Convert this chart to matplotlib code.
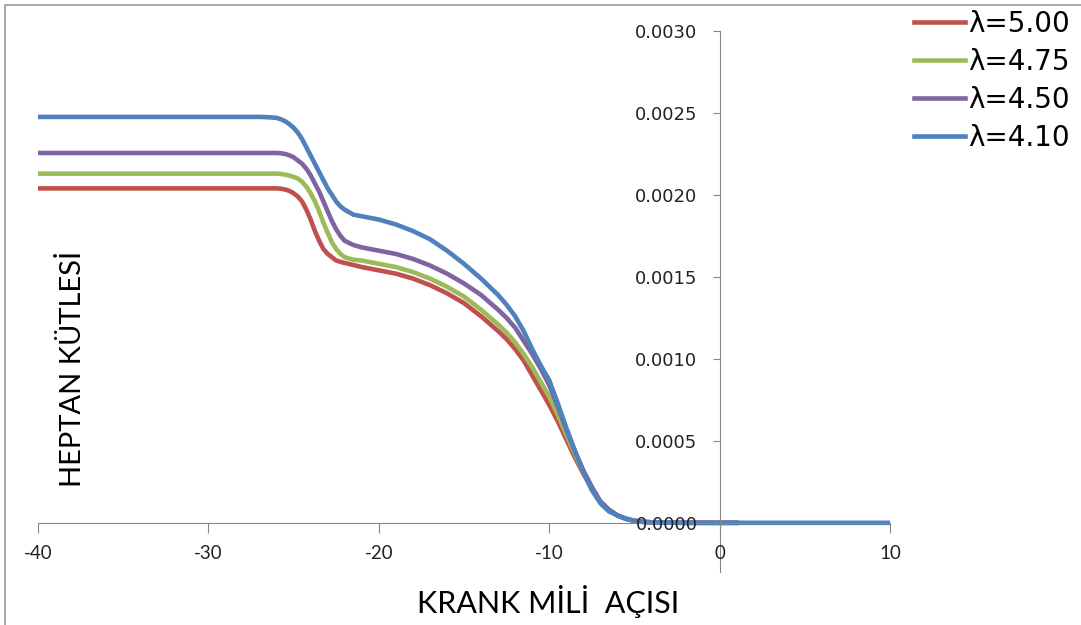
import matplotlib
matplotlib.use("Agg")
import matplotlib.pyplot as plt
from matplotlib.patches import Rectangle

plt.rcParams["axes.unicode_minus"] = False

# krank mili acisi (derece)
angle = [-40, -30, -27, -26.5, -26, -25.75, -25.5, -25.25, -25, -24.75, -24.5, -24.25,
         -24, -23.75, -23.5, -23.25, -23, -22.75, -22.5, -22.25, -22, -21.5, -21, -20,
         -19, -18, -17, -16, -15, -14, -13, -12.5, -12, -11.5, -11, -10.5, -10, -9.5,
         -9, -8.5, -8, -7.5, -7, -6.5, -6, -5.5, -5, -4.5, -4, -3, -2, 0, 1]

# heptan kutlesi, her lambda icin
m_500 = [0.00204, 0.00204, 0.00204, 0.00204, 0.00204, 0.002038, 0.002033, 0.002025,
         0.00201, 0.00199, 0.00196, 0.00191, 0.00185, 0.00178, 0.00172, 0.00167,
         0.00164, 0.00162, 0.00160, 0.001592, 0.001585, 0.001573, 0.00156, 0.00154,
         0.00152, 0.00149, 0.00145, 0.00140, 0.00134, 0.00126, 0.00117, 0.00112,
         0.00106, 0.00099, 0.00090, 0.00081, 0.00072, 0.00062, 0.00051, 0.00040,
         0.00030, 0.00021, 0.00013, 0.00008, 0.000045, 0.000025, 0.000012, 0.000006,
         0.000003, 0.000001, 0.0, 0.0, 0.0]
m_475 = [0.00213, 0.00213, 0.00213, 0.00213, 0.00213, 0.002128, 0.002124, 0.002118,
         0.00211, 0.00210, 0.00208, 0.00205, 0.00201, 0.00196, 0.00190, 0.00183,
         0.00177, 0.00171, 0.00167, 0.00164, 0.00162, 0.001605, 0.00160, 0.00158,
         0.00156, 0.00153, 0.00149, 0.00144, 0.00138, 0.00130, 0.00121, 0.00116,
         0.00110, 0.00103, 0.00095, 0.00086, 0.00077, 0.00066, 0.00054, 0.00042,
         0.00031, 0.00021, 0.00013, 0.00008, 0.000045, 0.000025, 0.000012, 0.000006,
         0.000003, 0.000001, 0.0, 0.0, 0.0]
m_450 = [0.002256, 0.002256, 0.002256, 0.002256, 0.002256, 0.002254, 0.00225, 0.002242,
         0.00223, 0.00221, 0.00219, 0.00216, 0.00212, 0.00207, 0.00202, 0.00196,
         0.00190, 0.00184, 0.00179, 0.00175, 0.00172, 0.001695, 0.00168, 0.00166,
         0.00164, 0.00161, 0.00157, 0.00152, 0.00146, 0.00139, 0.00130, 0.00125,
         0.00119, 0.00111, 0.00103, 0.00094, 0.00084, 0.00071, 0.00057, 0.00044,
         0.00032, 0.00022, 0.00013, 0.00008, 0.000045, 0.000025, 0.000012, 0.000006,
         0.000003, 0.000001, 0.0, 0.0, 0.0]
angle_410 = angle + [10]
m_410 = [0.002476, 0.002476, 0.002476, 0.002474, 0.00247, 0.002462, 0.00245, 0.002432,
         0.00241, 0.00238, 0.00234, 0.00229, 0.00224, 0.00219, 0.00214, 0.00209,
         0.00204, 0.00200, 0.00196, 0.00193, 0.00191, 0.00188, 0.00187, 0.00185,
         0.00182, 0.00178, 0.00173, 0.00166, 0.00158, 0.00149, 0.00139, 0.00133,
         0.00126, 0.00117, 0.00106, 0.00096, 0.00087, 0.00073, 0.00058, 0.00044,
         0.00031, 0.00020, 0.00012, 0.00007, 0.000045, 0.000025, 0.000012, 0.000006,
         0.000003, 0.000001, 0.0, 0.0, 0.0, 0.0]

labels = ["λ=5.00", "λ=4.75", "λ=4.50", "λ=4.10"]
colors = ["#C0504D", "#9BBB59", "#8064A2", "#4F81BD"]

W, H = 1081, 625
fig = plt.figure(figsize=(W / 100, H / 100), dpi=100)
ax = fig.add_axes([38 / W, 1 - 572 / H, 852 / W, (572 - 31) / H])
ax.set_axisbelow(False)

series = [(angle, m_500), (angle, m_475), (angle, m_450), (angle_410, m_410)]
for (xs, ys), lab, c in zip(series, labels, colors):
    ax.plot(xs, ys, color=c, lw=3.3, label=lab, solid_joinstyle="round")

ax.set_xlim(-40, 10)
ax.set_ylim(-0.0003, 0.003)

gray = "#868686"
for s in ["top", "right"]:
    ax.spines[s].set_visible(False)
ax.spines["left"].set_position(("data", 0))
ax.spines["bottom"].set_position(("data", 0))
ax.spines["left"].set_color(gray)
ax.spines["bottom"].set_color(gray)

ax.set_xticks([-40, -30, -20, -10, 0, 10])
ax.set_yticks([0, 0.0005, 0.0010, 0.0015, 0.0020, 0.0025, 0.0030])
ax.set_yticklabels([f"{v:.4f}" for v in ax.get_yticks()])
ax.tick_params(axis="y", direction="out", length=5, color=gray, pad=11,
               labelsize=13, labelcolor="#222222")
ax.tick_params(axis="x", direction="out", length=7, color=gray, pad=9,
               labelsize=13.5, labelcolor="#222222")
for t in ax.get_xticklabels():
    t.set_family("Lato")

ax.text(-37.95, 0.00094, "HEPTAN KÜTLESİ", rotation=90, ha="center", va="center",
        fontsize=21, family="Lato")
fig.text(548 / W, 1 - 601 / H, "KRANK MİLİ  AÇISI", ha="center", va="center",
         fontsize=22, family="Lato")

fig.legend(loc="upper left", bbox_to_anchor=(914 / W, 1 - 10 / H), frameon=False,
           fontsize=20, handlelength=1.85, handletextpad=0.1, labelspacing=0.36,
           borderaxespad=0, borderpad=0)

# kenarlik
fig.patches.append(Rectangle((5 / W, -0.1), 1.2, 1.1 - 5 / H, transform=fig.transFigure,
                             fill=False, edgecolor="#9a9a9a", lw=1.2, clip_on=False))

fig.savefig("out.png", dpi=100)
